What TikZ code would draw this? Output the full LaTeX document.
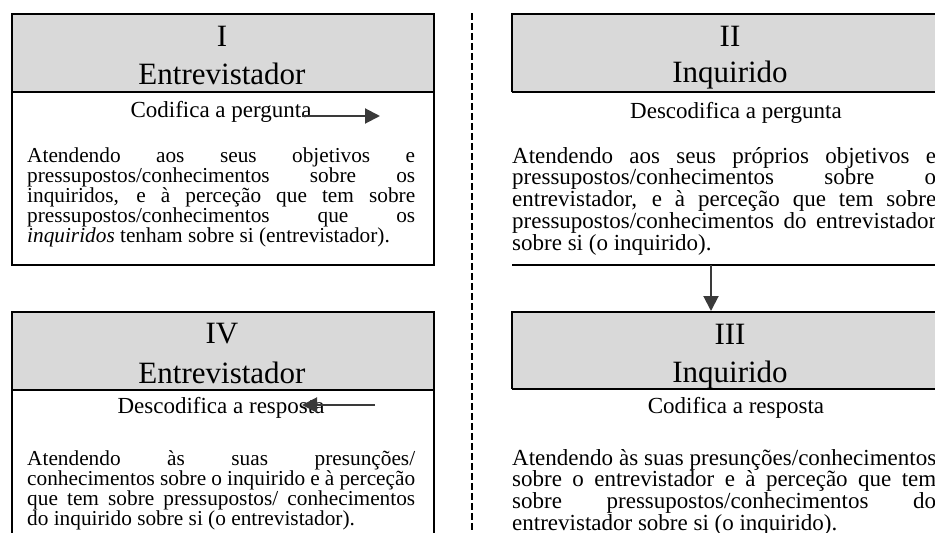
\documentclass[tikz,border=0pt]{standalone}
\usepackage{fontspec}
\setmainfont{Liberation Serif}
\usetikzlibrary{arrows.meta}
\definecolor{hdrgray}{HTML}{D9D9D9}
\definecolor{arrowgray}{HTML}{3A3A3A}
\newcommand\hdrfont{\fontsize{31}{31}\selectfont}
\newcommand\subfont{\fontsize{23}{23}\selectfont}
\newcommand\leftfont{\fontsize{21.3}{20.2}\selectfont\hyphenpenalty=10000\tolerance=10000}
\newcommand\rightfont{\fontsize{23}{20.6}\selectfont\hyphenpenalty=10000\tolerance=10000}
\tikzset{
  boxline/.style={line width=2.6pt},
  hdrtext/.style={anchor=base,inner sep=0pt,font=\hdrfont},
  subtext/.style={anchor=base,inner sep=0pt,font=\subfont},
  leftbody/.style={anchor=base west,inner sep=0pt,text width=388pt,align=justify,font=\leftfont},
  rightbody/.style={leftbody,text width=424pt,font=\rightfont},
  flowarrow/.style={draw=arrowgray,line width=2pt,-{Triangle[length=15pt,width=15pt]}},
  sidedash/.style={line width=2pt,dash pattern=on 7pt off 3pt}
}
\begin{document}
\begin{tikzpicture}[x=1pt,y=-1pt]
  \useasboundingbox (0,0) rectangle (935,533);
  \clip (0,0) rectangle (935,533);
  % grey heads
  \fill[hdrgray] (12,14) rectangle (434,92);
  \fill[hdrgray] (12,312) rectangle (434,390);
  \fill[hdrgray] (512,14) rectangle (960,92);
  \fill[hdrgray] (512,312) rectangle (960,389);
  % box lines
  \draw[boxline] (12,14) rectangle (434,265);
  \draw[boxline] (12,92) -- (434,92);
  \draw[boxline] (12,560) -- (12,312) -- (434,312) -- (434,560);
  \draw[boxline] (12,390) -- (434,390);
  \draw[boxline] (512,92) -- (512,14) -- (960,14);
  \draw[boxline] (512,92) -- (960,92);
  \draw[boxline] (512,265) -- (960,265);
  \draw[boxline] (512,389) -- (512,312) -- (960,312);
  \draw[boxline] (512,389) -- (960,389);
  \draw[sidedash] (472,13) -- (472,540);
  % I
  \node[hdrtext] (numI) at (222,46) {I};
  \node[hdrtext] (nameI) at (222,84) {Entrevistador};
  \node[subtext] (subI) at (221,117) {Codifica a pergunta};
  \node[leftbody] (bodyI) at (27,162) {Atendendo aos seus objetivos e\linebreak
    pressupostos/conhecimentos sobre os\linebreak
    inquiridos, e à perceção que tem sobre\linebreak
    pressupostos/conhecimentos que os\linebreak
    \textit{inquiridos} tenham sobre si (entrevistador).};
  % II
  \node[hdrtext] (numII) at (730,46) {II};
  \node[hdrtext] (nameII) at (730,82) {Inquirido};
  \node[subtext] (subII) at (736,118) {Descodifica a pergunta};
  \node[rightbody] (bodyII) at (512,163) {Atendendo aos seus próprios objetivos e\linebreak
    pressupostos/conhecimentos sobre o\linebreak
    entrevistador, e à perceção que tem sobre\linebreak
    pressupostos/conhecimentos do entrevistador\linebreak
    sobre si (o inquirido).};
  % III
  \node[hdrtext] (numIII) at (730,344) {III};
  \node[hdrtext] (nameIII) at (730,382) {Inquirido};
  \node[subtext] (subIII) at (736,413) {Codifica a resposta};
  \node[rightbody] (bodyIII) at (512,465) {Atendendo às suas presunções/conhecimentos\linebreak
    sobre o entrevistador e à perceção que tem\linebreak
    sobre pressupostos/conhecimentos do\linebreak
    entrevistador sobre si (o inquirido).};
  % IV
  \node[hdrtext] (numIV) at (222,343) {IV};
  \node[hdrtext] (nameIV) at (222,383) {Entrevistador};
  \node[subtext] (subIV) at (221,413) {Descodifica a resposta};
  \node[leftbody] (bodyIV) at (27,465) {Atendendo às suas presunções/\linebreak
    conhecimentos sobre o inquirido e à perceção\linebreak
    que tem sobre pressupostos/ conhecimentos\linebreak
    do inquirido sobre si (o entrevistador).};
  % arrows
  \coordinate (outI) at (302,116);
  \coordinate (tipI) at (380,116);
  \coordinate (inIV) at (375,405);
  \coordinate (tipIV) at (302,405);
  \coordinate (botII) at (711,265);
  \coordinate (topIII) at (711,311);
  \draw[flowarrow] (outI) -- (tipI);
  \draw[flowarrow] (botII) -- (topIII);
  \draw[flowarrow] (inIV) -- (tipIV);
\end{tikzpicture}
\end{document}
